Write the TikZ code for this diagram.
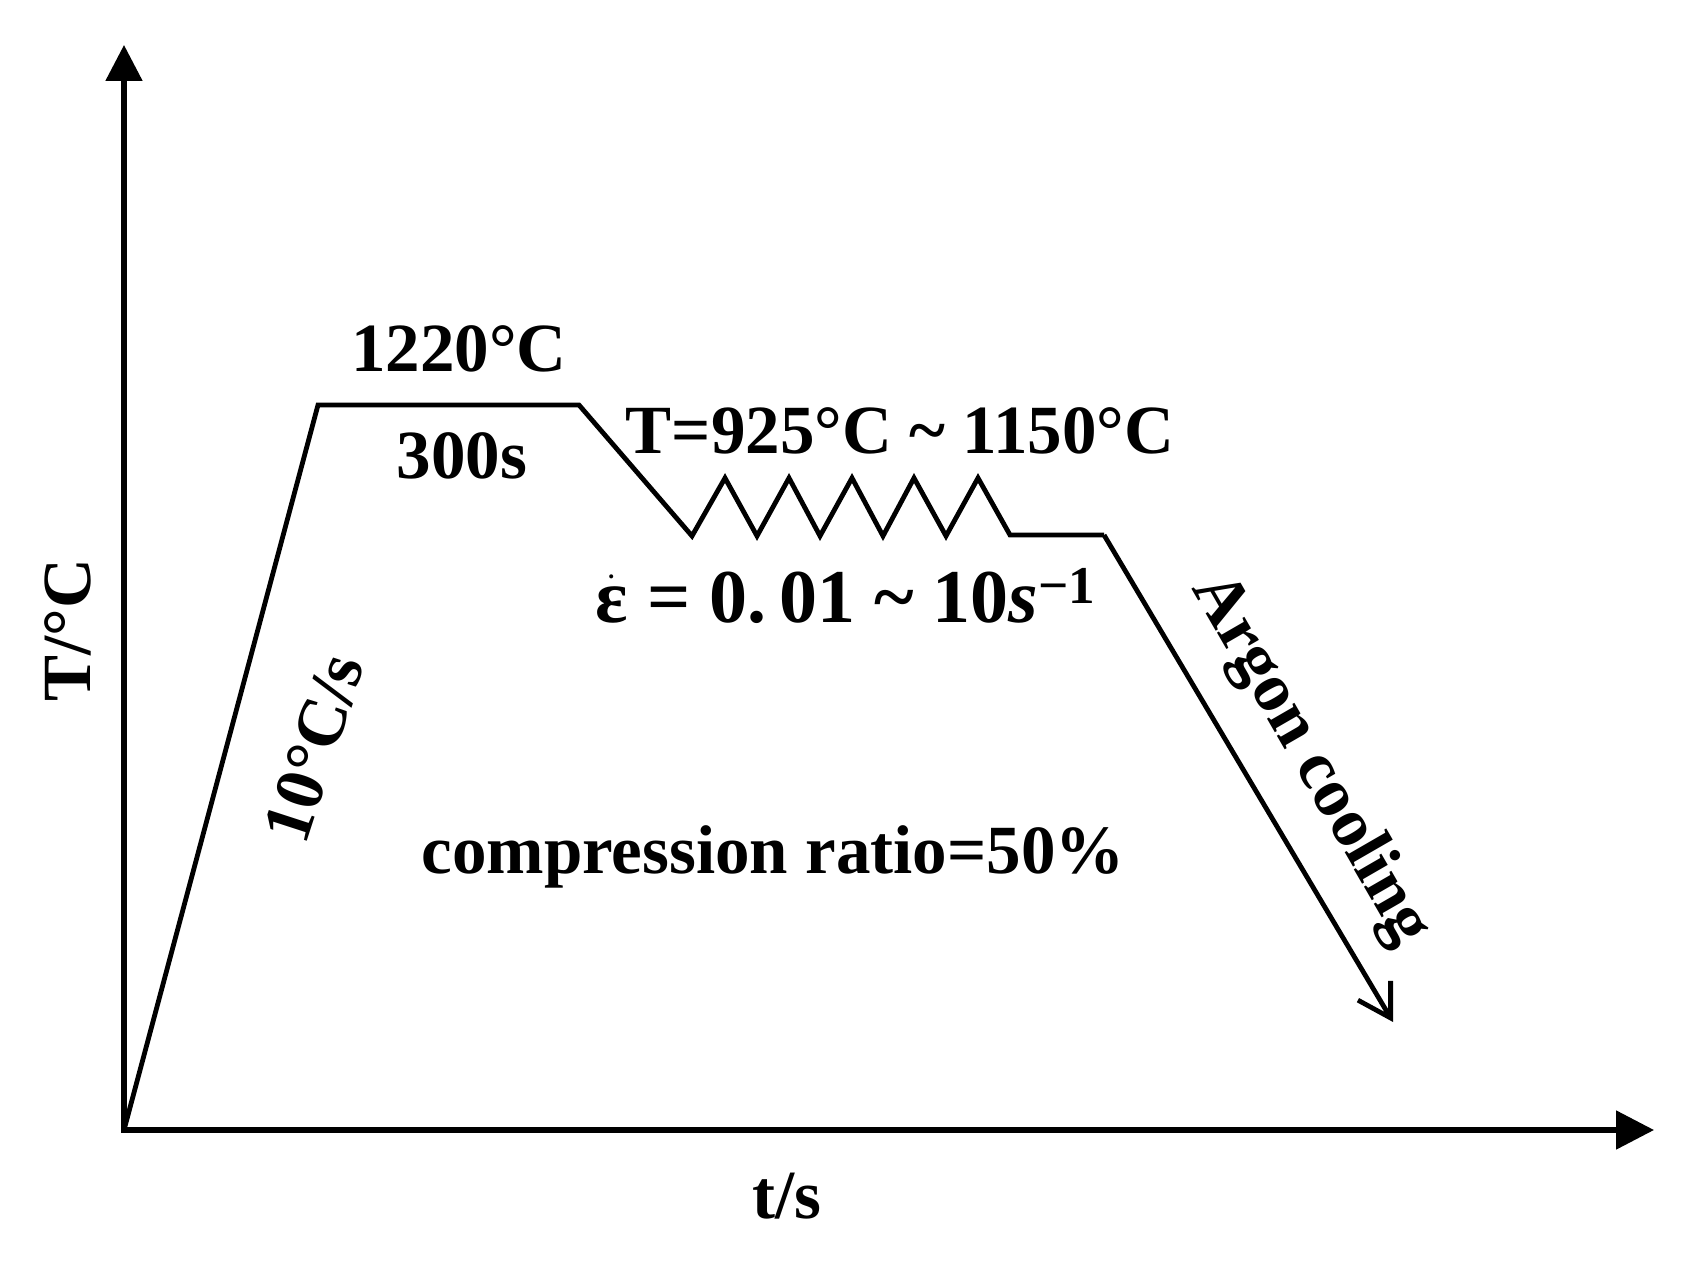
\documentclass[tikz,border=0pt]{standalone}
\usepackage{fontspec}
\usepackage{amsmath}
\setmainfont{Liberation Serif}
\usetikzlibrary{arrows.meta}
\begin{document}
\begin{tikzpicture}[x=0.5pt,y=-0.5pt,
  lbl/.style={font=\fontsize{34.5}{40}\selectfont\bfseries, inner sep=0pt},
  axisline/.style={line width=2.6pt, line join=miter},
  profile/.style={line width=2.4pt, line join=miter}]
\useasboundingbox (0,0) rectangle (1695,1272);
% axes
\coordinate (O) at (124,1130);
\coordinate (ytop) at (124,45);
\coordinate (xend) at (1654,1130);
\draw[axisline, {Triangle[length=18pt,width=18pt]}-{Triangle[length=19pt,width=19pt]}] (ytop) -- (O) -- (xend);
% profile
\coordinate (A) at (318,405);
\coordinate (B) at (579,405);
\coordinate (V1) at (692,536);
\coordinate (P1) at (725,478);
\coordinate (V2) at (757,536);
\coordinate (P2) at (789,478);
\coordinate (V3) at (820,536);
\coordinate (P3) at (852,478);
\coordinate (V4) at (883,536);
\coordinate (P4) at (914,478);
\coordinate (V5) at (946,536);
\coordinate (P5) at (978,478);
\coordinate (E) at (1010,535);
\coordinate (F) at (1104,535);
\coordinate (G) at (1393,1022);
\draw[profile] (O) -- (A) -- (B) -- (V1) -- (P1) -- (V2) -- (P2) -- (V3) -- (P3) -- (V4) -- (P4) -- (V5) -- (P5) -- (E) -- (F);
\draw[profile, -{Straight Barb[length=16pt,width=19pt]}] (F) -- (G);
% labels
\node[lbl, anchor=base] (t1220) at (459,372) {1220°C};
\node[lbl, anchor=base] (t300) at (462,479) {300s};
\node[lbl, anchor=base] (trange) at (900,453) {T=925°C \textasciitilde{} 1150°C};
\node[lbl, anchor=base, font=\fontsize{38}{44}\selectfont\bfseries] (rate) at (846,622) {$\dot{\text{ε}}$ = 0.\,01 \textasciitilde{} 10\textit{s}\textsuperscript{−1}};
\node[lbl, anchor=base] (ratio) at (773,873) {compression ratio=50\%};
\node[lbl, anchor=base] (ts) at (787,1218) {t/s};
\node[lbl, rotate=90] (TC) at (68,630) {T/°C};
\node[lbl, rotate=72] (heat) at (314,748) {10°C/s};
\node[lbl, rotate=-60] (argon) at (1310,760) {Argon cooling};
\end{tikzpicture}
\end{document}
